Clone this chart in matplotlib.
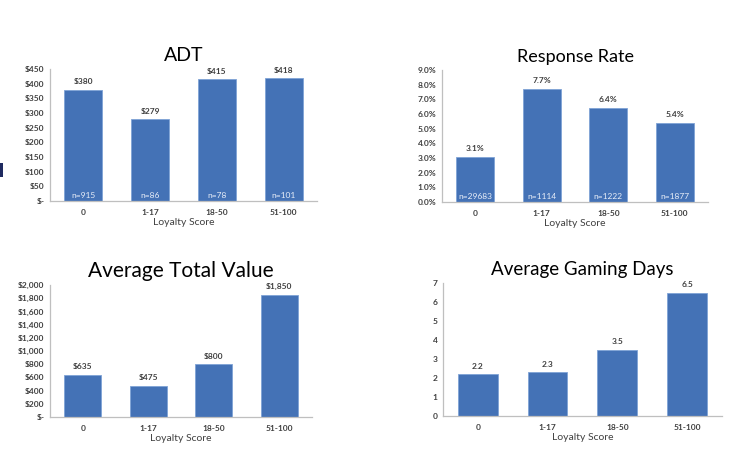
import matplotlib.pyplot as plt
import numpy as np
from matplotlib.patches import Rectangle

plt.rcParams['font.family'] = ['Lato', 'DejaVu Sans']

categories = ['0', '1-17', '18-50', '51-100']

adt = [380, 279, 415, 418]
adt_n = ['n=915', 'n=86', 'n=78', 'n=101']

resp = [3.1, 7.7, 6.4, 5.4]
resp_n = ['n=29683', 'n=1114', 'n=1222', 'n=1877']

total_value = [635, 475, 800, 1850]
gaming_days = [2.2, 2.3, 3.5, 6.5]

BLUE = '#4472B6'
TXT = '#404040'


def dollar(v):
    return '$-' if v == 0 else '${:,.0f}'.format(v)


def draw(ax, title, values, yticks, ytick_fmt, label_fmt, title_size, n_labels=None):
    x = np.arange(len(categories))
    ax.bar(x, values, width=0.57, color=BLUE, edgecolor='#7FA3D6', linewidth=0.6, zorder=2)
    ax.set_xlim(-0.5, 3.5)
    ax.set_ylim(yticks[0], yticks[-1])
    ax.set_yticks(yticks)
    ax.set_yticklabels([ytick_fmt(t) for t in yticks], fontsize=6, color=TXT, fontweight='bold')
    ax.set_xticks(x)
    ax.set_xticklabels(categories, fontsize=6, color=TXT, fontweight='bold')
    ax.tick_params(length=0, pad=6)
    ax.tick_params(axis='y', pad=4)
    for s in ['top', 'right']:
        ax.spines[s].set_visible(False)
    for s in ['left', 'bottom']:
        ax.spines[s].set_color('#BFBFBF')
        ax.spines[s].set_linewidth(0.9)
    ax.set_xlabel('Loyalty Score', fontsize=7.5, color=TXT, labelpad=1)
    ax.set_title(title, fontsize=title_size, color='black', pad=6)
    top = yticks[-1]
    for xi, v in zip(x, values):
        ax.text(xi, v + top * 0.035, label_fmt(v), ha='center', va='bottom',
                fontsize=6, color=TXT, fontweight='bold')
    if n_labels:
        for xi, n in zip(x, n_labels):
            ax.text(xi, top * 0.015, n, ha='center', va='bottom',
                    fontsize=6, color='#E8EEF8')


fig = plt.figure(figsize=(7.43, 4.67), dpi=100)

ax1 = fig.add_axes([0.0673, 0.5696, 0.3594, 0.2827])
draw(ax1, 'ADT', adt, list(range(0, 451, 50)), dollar, dollar, 14, adt_n)

ax2 = fig.add_axes([0.5949, 0.5675, 0.358, 0.2827])
draw(ax2, 'Response Rate', resp, [i * 1.0 for i in range(10)],
     lambda t: '{:.1f}%'.format(t), lambda v: '{:.1f}%'.format(v), 13, resp_n)

ax3 = fig.add_axes([0.0673, 0.107, 0.3526, 0.2827])
draw(ax3, 'Average Total Value', total_value, list(range(0, 2001, 200)), dollar, dollar, 15)

ax4 = fig.add_axes([0.5962, 0.1092, 0.3755, 0.2848])
draw(ax4, 'Average Gaming Days', gaming_days, list(range(0, 8)),
     lambda t: '{:d}'.format(t), lambda v: '{:.1f}'.format(v), 13.5)

# small navy mark on the left edge
fig.add_artist(Rectangle((0, 1 - 177 / 467), 2.5 / 743, 14 / 467,
                         transform=fig.transFigure, color='#1F2A60', lw=0))

fig.savefig('out.png', dpi=100)
